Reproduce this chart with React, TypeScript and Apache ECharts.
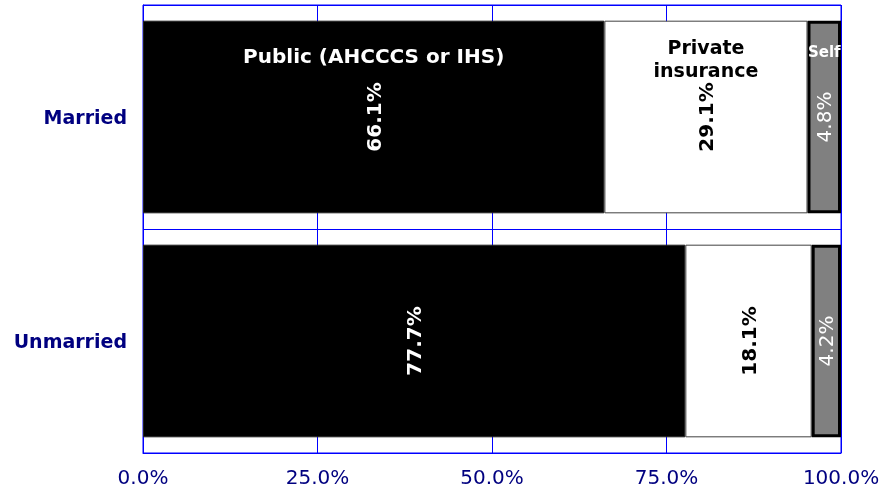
import React, { useEffect, useRef } from "react";
import * as echarts from "echarts";

const categories = ["Married", "Unmarried"];
const publicValues = [66.1, 77.7];
const privateValues = [29.1, 18.1];
const selfValues = [4.8, 4.2];
const seriesNames = ["Public (AHCCCS or IHS)", "Private\ninsurance", "Self"];
const xTicks = [0, 25, 50, 75, 100];

const FONT = "DejaVu Sans";
const NAVY = "#000080";
const BLUE = "#0000ff";

export default function App() {
  const ref = useRef<HTMLDivElement>(null);
  useEffect(() => {
    if (!ref.current) return;
    const chart = echarts.init(ref.current, undefined, { renderer: "svg" });
    const valueLabel = (color: string, bold: boolean) => ({
      show: true,
      position: "inside",
      rotate: 90,
      color,
      fontFamily: FONT,
      fontSize: 20,
      fontWeight: bold ? "bold" : "normal",
      formatter: (p: any) => p.value.toFixed(1) + "%",
    });
    const nameLabel = (color: string, size: number, dy: number, text: string) => ({
      show: true,
      position: ["50%", dy],
      align: "center",
      verticalAlign: "middle",
      color,
      fontFamily: FONT,
      fontSize: size,
      fontWeight: "bold",
      lineHeight: size + 4,
      formatter: () => text,
    });
    const common = { barGap: "-100%", barCategoryGap: "14%" };
    chart.setOption({
      animation: false,
      grid: {
        left: 143,
        right: 48,
        top: 5,
        bottom: 36,
        show: true,
        borderColor: BLUE,
        borderWidth: 1,
      },
      xAxis: {
        type: "value",
        min: 0,
        max: 100,
        interval: 25,
        axisLine: { show: true, lineStyle: { color: BLUE } },
        axisTick: { show: false },
        splitLine: { show: true, lineStyle: { color: BLUE, width: 1 } },
        axisLabel: {
          color: NAVY,
          fontFamily: FONT,
          fontSize: 20,
          margin: 14,
          formatter: (v: number) => (xTicks.includes(v) ? v.toFixed(1) + "%" : ""),
        },
      },
      yAxis: {
        type: "category",
        data: categories,
        inverse: true,
        axisLine: { show: true, lineStyle: { color: BLUE } },
        axisTick: { show: false },
        splitLine: { show: true, lineStyle: { color: BLUE, width: 1 } },
        axisLabel: {
          color: NAVY,
          fontFamily: FONT,
          fontSize: 19,
          fontWeight: "bold",
          margin: 16,
        },
      },
      series: [
        {
          type: "bar",
          name: "Public",
          stack: "v",
          data: publicValues,
          itemStyle: { color: "#000000", borderColor: "#202020", borderWidth: 1 },
          label: valueLabel("#ffffff", true),
          ...common,
        },
        {
          type: "bar",
          name: "Private",
          stack: "v",
          data: privateValues,
          itemStyle: { color: "#ffffff", borderColor: "#404040", borderWidth: 1 },
          label: valueLabel("#000000", true),
          ...common,
        },
        {
          type: "bar",
          name: "Self",
          stack: "v",
          data: selfValues,
          itemStyle: { color: "#808080", borderColor: "#000000", borderWidth: 3 },
          label: valueLabel("#ffffff", false),
          ...common,
        },
        {
          type: "bar",
          name: "PublicName",
          stack: "n",
          silent: true,
          data: [publicValues[0], null],
          itemStyle: { color: "transparent" },
          label: nameLabel("#ffffff", 20, 35, seriesNames[0]),
          ...common,
        },
        {
          type: "bar",
          name: "PrivateName",
          stack: "n",
          silent: true,
          data: [privateValues[0], null],
          itemStyle: { color: "transparent" },
          label: nameLabel("#000000", 19, 38, seriesNames[1]),
          ...common,
        },
        {
          type: "bar",
          name: "SelfName",
          stack: "n",
          silent: true,
          data: [selfValues[0], null],
          itemStyle: { color: "transparent" },
          label: nameLabel("#ffffff", 15, 31, seriesNames[2]),
          ...common,
        },
      ],
    });
    return () => chart.dispose();
  }, []);
  return (
    <div
      ref={ref}
      style={{ position: "fixed", left: 0, top: 0, width: 889, height: 489 }}
    />
  );
}
